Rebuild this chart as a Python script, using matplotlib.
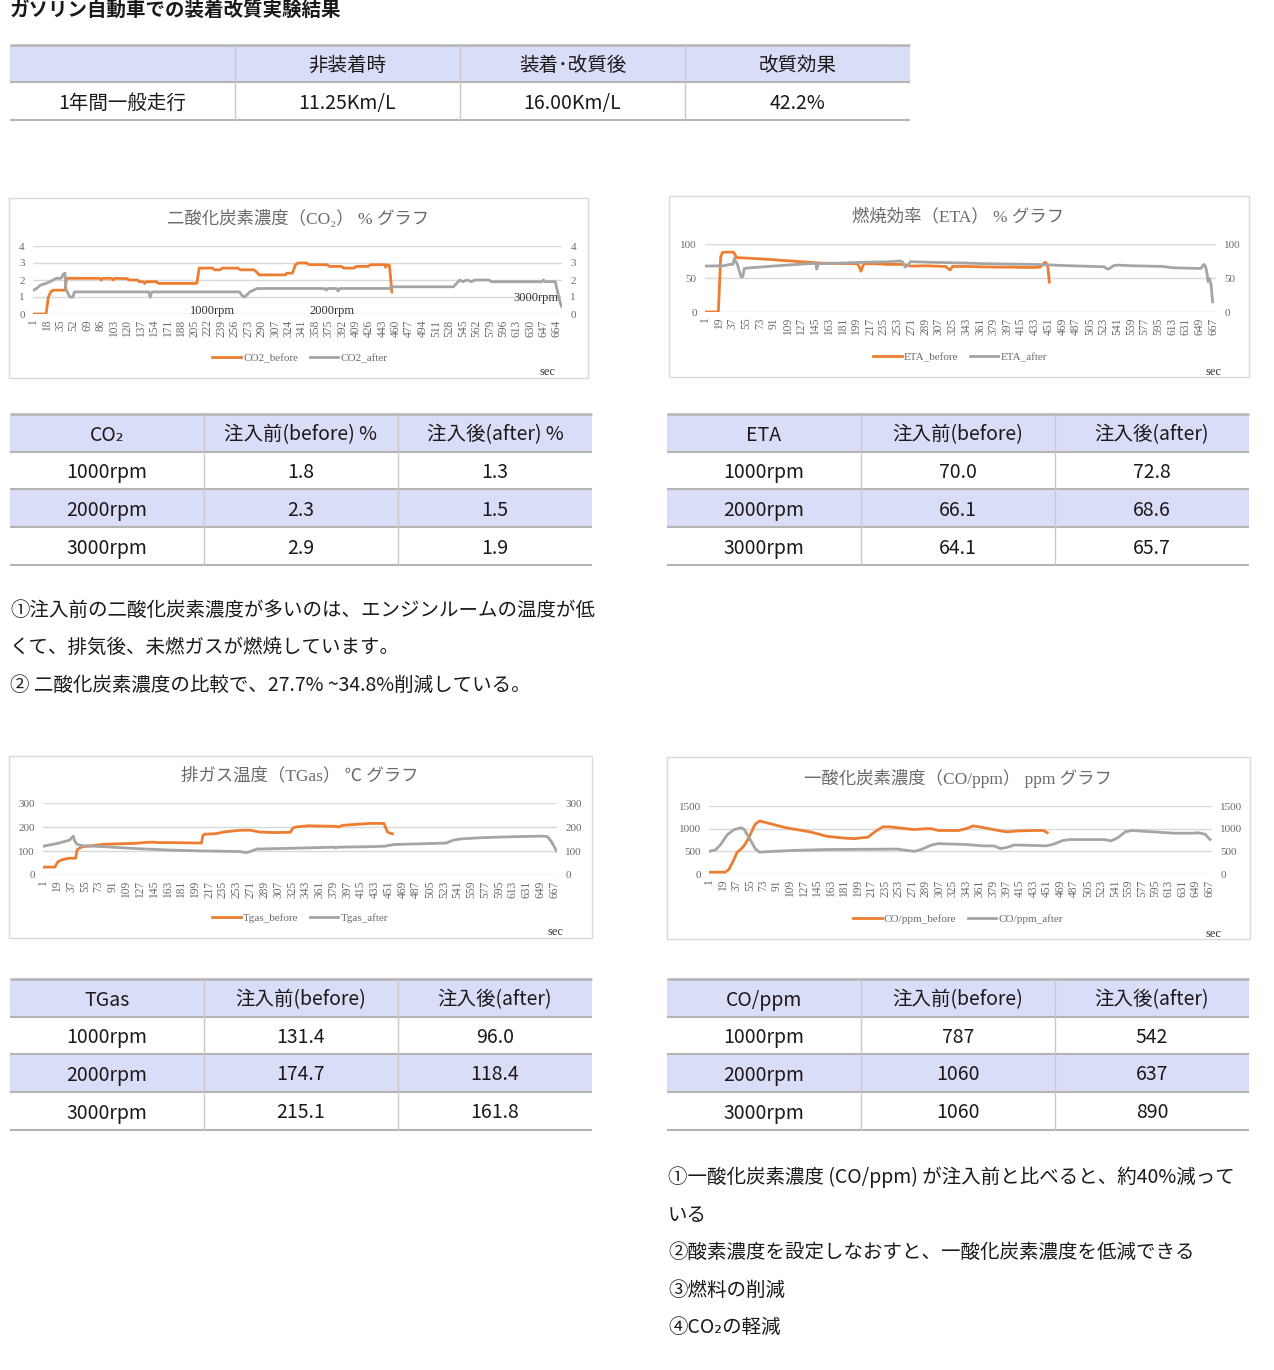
import matplotlib
matplotlib.use('Agg')
import matplotlib.pyplot as plt
from matplotlib.patches import Rectangle

W, H = 1274, 1370
DPI = 100

JP = ['Noto Sans CJK JP', 'DejaVu Sans']
SERIF = ['Liberation Serif', 'Noto Sans CJK JP', 'DejaVu Serif']
plt.rcParams['font.family'] = JP

ORANGE = '#ED7D31'
GRAY = '#A5A5A5'
LAV = '#DADDF7'
HLINE = '#B4B4B4'
VLINE = '#C8C8C8'
TXT = '#1A1A1A'
CHART_TXT = '#6A6A6A'
GRID = '#D9D9D9'

# ---------------- data ----------------
page_title = 'ガソリン自動車での装着改質実験結果'
top_headers = ['', '非装着時', '装着･改質後', '改質効果']
top_row = ['1年間一般走行', '11.25Km/L', '16.00Km/L', '42.2%']

rpm_labels = ['1000rpm', '2000rpm', '3000rpm']

co2_headers = ['CO₂', '注入前(before) %', '注入後(after) %']
co2_table_before = ['1.8', '2.3', '2.9']
co2_table_after = ['1.3', '1.5', '1.9']

eta_headers = ['ETA', '注入前(before)', '注入後(after)']
eta_table_before = ['70.0', '66.1', '64.1']
eta_table_after = ['72.8', '68.6', '65.7']

tgas_headers = ['TGas', '注入前(before)', '注入後(after)']
tgas_table_before = ['131.4', '174.7', '215.1']
tgas_table_after = ['96.0', '118.4', '161.8']

co_headers = ['CO/ppm', '注入前(before)', '注入後(after)']
co_table_before = ['787', '1060', '1060']
co_table_after = ['542', '637', '890']

co2_notes = ['①注入前の二酸化炭素濃度が多いのは、エンジンルームの温度が低',
             'くて、排気後、未燃ガスが燃焼しています。',
             '② 二酸化炭素濃度の比較で、27.7% ~34.8%削減している。']
co_notes = ['①一酸化炭素濃度 (CO/ppm) が注入前と比べると、約40%減って',
            'いる',
            '②酸素濃度を設定しなおすと、一酸化炭素濃度を低減できる',
            '③燃料の削減',
            '④CO₂の軽減']

# x tick labels (seconds)
co2_xticks = [1, 18, 35, 52, 69, 86, 103, 120, 137, 154, 171, 188, 205, 222,
              239, 256, 273, 290, 307, 324, 341, 358, 375, 392, 409, 426, 443,
              460, 477, 494, 511, 528, 545, 562, 579, 596, 613, 630, 647, 664]
std_xticks = [1, 19, 37, 55, 73, 91, 109, 127, 145, 163, 181, 199, 217, 235,
              253, 271, 289, 307, 325, 343, 361, 379, 397, 415, 433, 451, 469,
              487, 505, 523, 541, 559, 577, 595, 613, 631, 649, 667]

# CO2 (%)
co2_before_t = [1, 17, 20, 23, 26, 41, 43, 60, 85, 87, 89, 100, 102, 104, 120, 122,
                133, 135, 140, 142, 144, 157, 159, 208, 211, 228, 230, 238, 240,
                260, 263, 280, 283, 287, 320, 322, 329, 333, 336, 347, 350, 373,
                376, 391, 394, 407, 410, 425, 428, 446, 447, 449, 452, 455]
co2_before_v = [0, 0, 1.0, 1.3, 1.4, 1.4, 2.1, 2.1, 2.1, 2.0, 2.1, 2.1, 2.0, 2.1, 2.08, 2.0,
                2.0, 1.9, 1.9, 1.8, 1.9, 1.9, 1.8, 1.8, 2.7, 2.7, 2.6, 2.6, 2.7,
                2.7, 2.6, 2.6, 2.5, 2.3, 2.3, 2.4, 2.4, 2.9, 3.0, 3.0, 2.9, 2.9,
                2.8, 2.8, 2.7, 2.7, 2.8, 2.8, 2.9, 2.9, 2.75, 2.9, 2.85, 1.3]
co2_after_t = [1, 5, 10, 17, 22, 26, 30, 36, 39, 41, 42, 44, 47, 51, 53, 147, 149,
               151, 262, 265, 268, 271, 275, 280, 284, 370, 372, 374, 385, 387,
               389, 452, 454, 533, 537, 541, 545, 550, 556, 560, 578, 581, 645,
               647, 649, 662, 665, 668, 670]
co2_after_v = [1.4, 1.5, 1.7, 1.8, 1.9, 2.0, 2.1, 2.1, 2.35, 2.4, 1.5, 1.3, 1.0, 1.0, 1.3, 1.3, 1.0,
               1.3, 1.3, 1.1, 1.0, 1.1, 1.3, 1.4, 1.5, 1.5, 1.4, 1.5, 1.5, 1.35,
               1.5, 1.5, 1.6, 1.6, 1.8, 2.0, 1.9, 2.0, 1.9, 2.0, 2.0, 1.9, 1.9,
               2.0, 1.9, 1.9, 1.3, 0.7, 0.45]

# ETA (%)
eta_before_t = [1, 18, 21, 23, 25, 38, 40, 42, 60, 75, 90, 100, 115, 125, 133, 145,
                151, 170, 200, 203, 205, 207, 209, 223, 240, 259, 266, 270, 290,
                316, 319, 322, 325, 345, 360, 380, 400, 420, 432, 440, 446, 448,
                450, 452]
eta_before_v = [0, 0, 80, 87, 88, 88, 84, 80, 79, 78, 77, 76, 75, 74, 73.5, 72.5,
                72, 71.5, 71, 66, 60, 66, 71, 71, 70, 70, 69, 67.5, 68,
                67, 64, 62, 67, 67, 66.5, 66, 66, 65.5, 65.5, 66, 73, 72,
                66, 44]
eta_after_t = [1, 25, 33, 37, 39, 41, 43, 46, 48, 50, 52, 60, 95, 135, 146, 147,
               149, 180, 206, 243, 257, 260, 263, 266, 270, 300, 340, 370, 400,
               434, 480, 524, 528, 531, 536, 542, 560, 600, 615, 651, 653, 655,
               657, 659, 660, 662, 664, 666]
eta_after_v = [67.5, 68, 70, 70, 79, 74, 70, 58, 51.5, 52, 64, 65, 68, 71, 71.5, 63,
               71, 72, 73, 74, 75, 73, 66, 68, 74, 73, 72, 71, 70.5,
               70, 68, 66.5, 63, 64, 68, 69, 68, 67, 65, 64, 68, 70,
               66, 55, 45, 49, 40, 15]

# TGas (deg C)
tgas_before_t = [1, 16, 18, 20, 24, 31, 36, 43, 45, 48, 52, 65, 80, 121, 135, 144,
                 150, 166, 207, 209, 211, 225, 238, 256, 270, 283, 301, 323, 326,
                 330, 346, 382, 386, 391, 413, 427, 445, 449, 452, 456]
tgas_before_v = [33, 33, 45, 55, 62, 68, 70, 70, 105, 112, 118, 122, 128, 132, 136, 137,
                 135, 135, 133, 165, 170, 172, 180, 186, 187, 179, 177, 178, 195,
                 200, 205, 203, 200, 207, 212, 215, 215, 182, 175, 172]
tgas_after_t = [1, 20, 35, 40, 42, 45, 52, 80, 122, 166, 211, 256, 262, 265, 270,
                279, 346, 380, 382, 385, 427, 446, 458, 526, 535, 544, 570, 595,
                620, 652, 658, 663, 670]
tgas_after_v = [120, 132, 145, 162, 140, 128, 122, 118, 110, 104, 100, 98, 95, 93, 97,
                108, 113, 116, 113, 116, 118, 120, 127, 133, 145, 150, 155, 158,
                160, 162, 160, 140, 100]

# CO (ppm)
co_before_t = [1, 22, 27, 34, 38, 43, 47, 52, 62, 68, 75, 103, 135, 158, 182, 195,
               204, 212, 223, 232, 241, 274, 290, 297, 306, 333, 343, 352, 361,
               389, 398, 412, 435, 446, 451]
co_before_v = [40, 40, 100, 330, 480, 550, 620, 750, 1100, 1170, 1140, 1020, 930, 830, 790, 780,
               800, 810, 950, 1040, 1040, 980, 1000, 1000, 960, 960, 1000, 1060, 1040,
               950, 930, 950, 960, 960, 910]
co_after_t = [1, 9, 16, 25, 34, 43, 47, 54, 62, 68, 75, 112, 158, 251, 274, 283,
              297, 306, 343, 366, 380, 389, 398, 407, 435, 449, 458, 472, 481,
              527, 536, 545, 555, 564, 582, 620, 643, 652, 661, 668]
co_after_v = [500, 530, 650, 870, 980, 1020, 990, 800, 560, 480, 490, 520, 540, 550, 500, 540,
              640, 670, 650, 620, 620, 560, 590, 640, 630, 620, 650, 740, 760,
              760, 730, 800, 930, 960, 940, 900, 900, 910, 880, 760]

# ---------------- figure ----------------
fig = plt.figure(figsize=(W / DPI, H / DPI), dpi=DPI)
fig.patch.set_facecolor('white')
bg = fig.add_axes([0, 0, 1, 1], zorder=0)
bg.set_xlim(0, W)
bg.set_ylim(H, 0)
bg.axis('off')

FS = 14.0
FW = 'normal'


def hline(x0, x1, y, color=HLINE, lw=1.5):
    bg.plot([x0, x1], [y, y], color=color, lw=lw, solid_capstyle='butt')


def vline(x, y0, y1, color=VLINE, lw=1.0):
    bg.plot([x, x], [y0, y1], color=color, lw=lw, solid_capstyle='butt')


def draw_table(xe, ye, cells, shade):
    for i in range(len(ye) - 1):
        if i in shade:
            bg.add_patch(Rectangle((xe[0], ye[i]), xe[-1] - xe[0], ye[i + 1] - ye[i],
                                   facecolor=LAV, edgecolor='none'))
    for j, y in enumerate(ye):
        hline(xe[0], xe[-1], y, lw=1.8 if j == 0 else 1.5)
    for x in xe[1:-1]:
        vline(x, ye[0], ye[-1])
    for i, row in enumerate(cells):
        yc = (ye[i] + ye[i + 1]) / 2 + 2
        for j, t in enumerate(row):
            xc = (xe[j] + xe[j + 1]) / 2
            bg.text(xc, yc, t, ha='center', va='center', fontsize=FS, color=TXT,
                    family=JP, fontweight=FW)


# page title
bg.text(10, 10, page_title, ha='left', va='center', fontsize=14,
        fontweight='bold', color=TXT, family=JP)

# top table
draw_table([10, 235, 460, 685, 910], [45, 82, 120], [top_headers, top_row], shade=[0])


def small_table(x0, y0, headers, before, after):
    xe = [x0, x0 + 194, x0 + 388, x0 + 582]
    ye = [y0, y0 + 38, y0 + 75, y0 + 113, y0 + 151]
    cells = [headers] + [[rpm_labels[i], before[i], after[i]] for i in range(3)]
    draw_table(xe, ye, cells, shade=[0, 2])


small_table(10, 414, co2_headers, co2_table_before, co2_table_after)
small_table(667, 414, eta_headers, eta_table_before, eta_table_after)
small_table(10, 979, tgas_headers, tgas_table_before, tgas_table_after)
small_table(667, 979, co_headers, co_table_before, co_table_after)

for k, t in enumerate(co2_notes):
    bg.text(10, [610, 647, 685][k], t, ha='left', va='center', fontsize=FS,
            color=TXT, family=JP, fontweight=FW)
for k, t in enumerate(co_notes):
    bg.text(668, [1177, 1215, 1252, 1290, 1327][k], t, ha='left', va='center',
            fontsize=FS, color=TXT, family=JP, fontweight=FW)


def chart(frame, box, title, title_xy, ylim, yticks, xticks,
          t1, v1, t2, v2, names, legend_xy, sec_xy):
    fl, ft, fr, fb = frame
    bg.add_patch(Rectangle((fl, ft), fr - fl, fb - ft, facecolor='white',
                           edgecolor=GRID, lw=1.0))
    bg.text(title_xy[0], title_xy[1], title, ha='center', va='center',
            fontsize=12.5, color=CHART_TXT, family=SERIF)
    bg.text(sec_xy[0], sec_xy[1], 'sec', ha='center', va='center',
            fontsize=9, color='#333333', family=SERIF)
    l, t, r, b = box
    ax = fig.add_axes([l / W, 1 - b / H, (r - l) / W, (b - t) / H], zorder=2)
    ax.set_facecolor('none')
    ax.set_xlim(0.5, 670.5)
    ax.set_ylim(*ylim)
    ax.set_yticks(yticks)
    ax.set_yticklabels([str(v) for v in yticks], family=SERIF, fontsize=8,
                       color=CHART_TXT)
    ax.set_xticks(xticks)
    ax.set_xticklabels([str(v) for v in xticks], rotation=90, family=SERIF,
                       fontsize=8.3, color=CHART_TXT, va='top')
    ax.tick_params(axis='both', length=0)
    ax.tick_params(axis='y', pad=6)
    ax.tick_params(axis='x', pad=4)
    ax.grid(axis='y', color=GRID, lw=1.0)
    ax.set_axisbelow(True)
    for s in ax.spines.values():
        s.set_visible(False)
    h1, = ax.plot(t1, v1, color=ORANGE, lw=2.0, label=names[0])
    h2, = ax.plot(t2, v2, color=GRAY, lw=2.0, label=names[1])
    ax2 = ax.twinx()
    ax2.set_ylim(*ylim)
    ax2.set_yticks(yticks)
    ax2.set_yticklabels([str(v) for v in yticks], family=SERIF, fontsize=8,
                        color=CHART_TXT)
    ax2.tick_params(axis='y', length=0, pad=6)
    for s in ax2.spines.values():
        s.set_visible(False)
    ax.legend(handles=[h1, h2], loc='center',
              bbox_to_anchor=(legend_xy[0] / W, 1 - legend_xy[1] / H),
              bbox_transform=fig.transFigure, ncol=2, frameon=False,
              handlelength=2.6, handletextpad=0.2, columnspacing=1.0,
              prop={'family': SERIF, 'size': 8}, labelcolor=CHART_TXT)
    return ax


chart((9, 198, 588, 378), (33, 246, 562, 314),
      '二酸化炭素濃度（CO₂） % グラフ', (298, 219), (0, 4), [0, 1, 2, 3, 4],
      co2_xticks, co2_before_t, co2_before_v, co2_after_t, co2_after_v,
      ['CO2_before', 'CO2_after'], (300, 358), (548, 372))
for lab, xy in zip(rpm_labels, [(212, 311), (332, 311), (536, 298)]):
    fig.text(xy[0] / W, 1 - xy[1] / H, lab, ha='center', va='center', fontsize=9,
             color='#333333', family=SERIF, zorder=5)

chart((669, 196, 1249, 377), (705, 244, 1216, 312),
      '燃焼効率（ETA） % グラフ', (958, 217), (0, 100), [0, 50, 100],
      std_xticks, eta_before_t, eta_before_v, eta_after_t, eta_after_v,
      ['ETA_before', 'ETA_after'], (960, 357), (1214, 372))

chart((9, 756, 592, 938), (43, 803, 557, 875),
      '排ガス温度（TGas） ℃ グラフ', (300, 776), (0, 300), [0, 100, 200, 300],
      std_xticks, tgas_before_t, tgas_before_v, tgas_after_t, tgas_after_v,
      ['Tgas_before', 'Tgas_after'], (300, 918), (556, 932))

chart((667, 757, 1250, 939), (709, 806, 1212, 874),
      '一酸化炭素濃度（CO/ppm） ppm グラフ', (958, 778), (0, 1500), [0, 500, 1000, 1500],
      std_xticks, co_before_t, co_before_v, co_after_t, co_after_v,
      ['CO/ppm_before', 'CO/ppm_after'], (958, 919), (1213, 934))

fig.savefig('out.png', dpi=DPI, facecolor='white')
